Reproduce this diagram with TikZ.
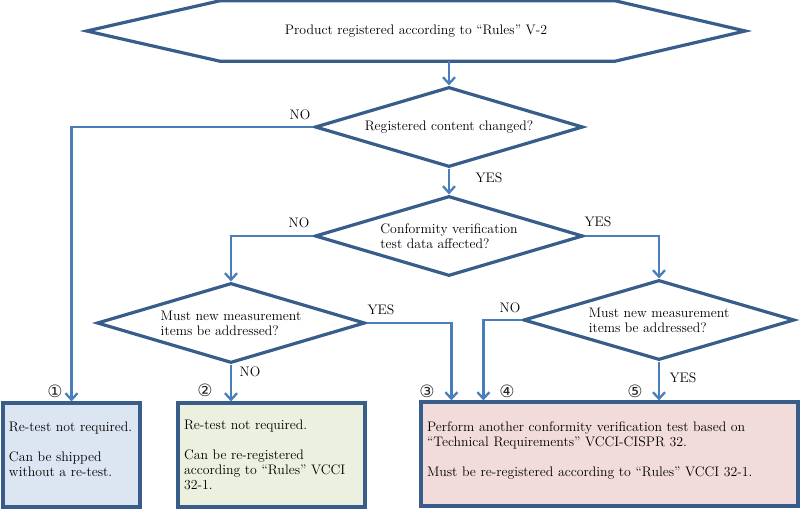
\documentclass[tikz,border=0pt]{standalone}
\usepackage{fontspec}
\usetikzlibrary{shapes.geometric,arrows.meta}
\newfontfamily\circfont{DejaVu Sans}
\definecolor{outl}{HTML}{385D8A}
\definecolor{connc}{HTML}{4A7EBB}
\definecolor{fillb}{HTML}{DCE6F2}
\definecolor{fillg}{HTML}{EBF1DE}
\definecolor{fillp}{HTML}{F2DCDB}
\tikzset{
  txt/.style={font=\fontsize{13.8}{15}\selectfont},
  shapeline/.style={draw=outl, line width=3.2pt, line join=miter},
  decision/.style={shape=diamond, shapeline, inner sep=0pt, minimum width=268pt, minimum height=80pt, aspect=3.35, align=left, txt},
  box/.style={shapeline, inner xsep=6pt, align=left, minimum height=104pt, txt},
  conn/.style={draw=connc, line width=2.3pt, -{Straight Barb[length=6.5pt,width=12pt,line width=2.3pt]}},
  lbl/.style={txt, inner sep=0pt},
  circ/.style={font=\circfont\fontsize{17}{18}\selectfont, text=black!85, inner sep=0pt}
}
\begin{document}
\begin{tikzpicture}[x=1pt, y=-1pt]
\useasboundingbox (0,0) rectangle (800,510);
% start hexagon
\node[inner sep=0pt, minimum width=658pt, minimum height=60pt, txt] (start) at (416,31) {Product registered according to “Rules” V-2};
\draw[shapeline] (start.west) -- ([xshift=133pt]start.north west) -- ([xshift=-130pt]start.north east) -- (start.east) -- ([xshift=-130pt]start.south east) -- ([xshift=133pt]start.south west) -- cycle;
% decisions
\node[decision] (d1) at (449,127) {Registered content changed?};
\node[decision] (d2) at (449,236) {Conformity verification\\test data affected?};
\node[decision] (d3) at (231,323) {Must new measurement\\items be addressed?};
\node[decision, minimum width=271pt] (d4) at (659,320) {Must new measurement\\items be addressed?};
% boxes
\node[box, fill=fillb, text width=125pt] (b1) at (71.5,455) {Re-test not required.\\[15pt]Can be shipped\\without a re-test.\\[-4pt]\mbox{}};
\node[box, fill=fillg, text width=175pt] (b2) at (271.5,455) {Re-test not required.\\[15pt]Can be re-registered\\according to “Rules” VCCI\\32-1.};
\node[box, fill=fillp, text width=365pt] (b3) at (609.5,454) {Perform another conformity verification test based on\\“Technical Requirements” VCCI-CISPR 32.\\[15pt]Must be re-registered according to “Rules” VCCI 32-1.\\[-5pt]\mbox{}};
% connectors
\draw[conn] (start.south -| d1.north) -- (d1.north);
\draw[conn] (d1.west) -| (b1.north);
\draw[conn] (d1.south) -- (d2.north);
\draw[conn] (d2.west) -| (d3.north);
\draw[conn] (d2.east) -| (d4.north);
\draw[conn] (d3.east) -| ([xshift=32pt]b3.north west);
\draw[conn] (d3.south) -- (d3.south |- b2.north);
\draw[conn] (d4.west) -| ([xshift=64pt]b3.north west);
\draw[conn] (d4.south) -- (d4.south |- b3.north);
% labels
\node[lbl] (l1) at (300,115) {NO};
\node[lbl] (l2) at (489,178) {YES};
\node[lbl] (l3) at (299,223) {NO};
\node[lbl] (l4) at (598,222) {YES};
\node[lbl] (l5) at (381,310) {YES};
\node[lbl] (l6) at (250,372) {NO};
\node[lbl] (l7) at (510,308) {NO};
\node[lbl] (l8) at (683,378) {YES};
% circled numbers
\node[circ] (n1) at (55,391) {①};
\node[circ] (n2) at (205,390) {②};
\node[circ] (n3) at (427,391) {③};
\node[circ] (n4) at (507,391) {④};
\node[circ] (n5) at (635,391) {⑤};
\end{tikzpicture}
\end{document}
